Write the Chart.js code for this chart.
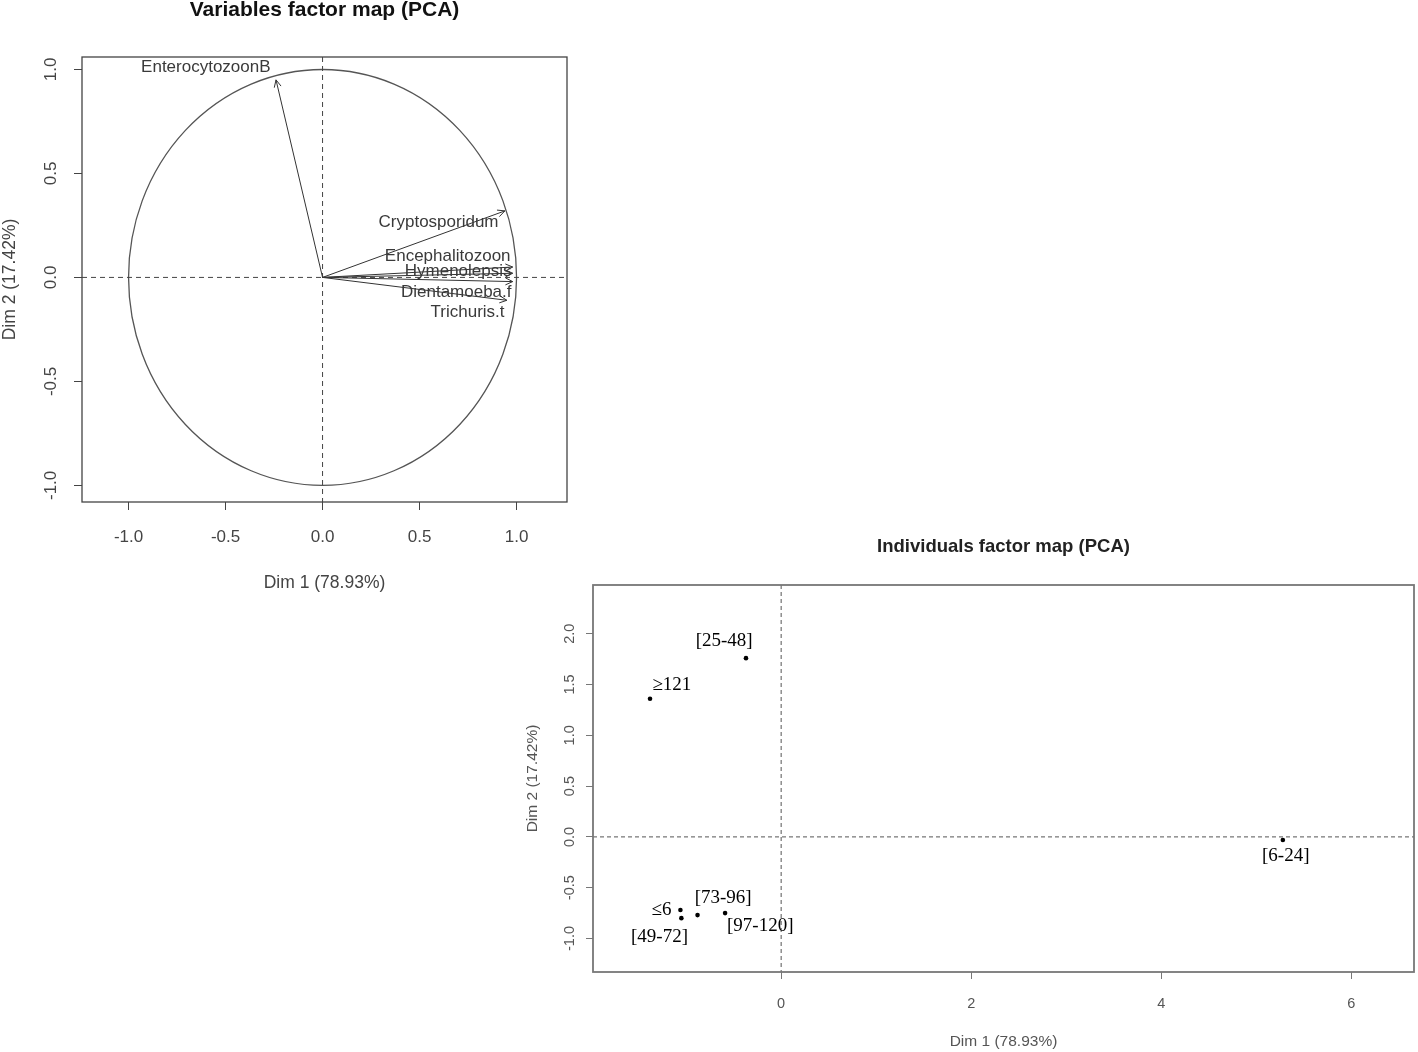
<!DOCTYPE html>
<html><head><meta charset="utf-8">
<script src="https://cdn.jsdelivr.net/npm/chart.js@4/dist/chart.umd.min.js"></script>
<style>
html,body{margin:0;padding:0;background:#fff;width:1418px;height:1052px;overflow:hidden;}
#c1{position:absolute;left:0;top:0;}
#c2{position:absolute;left:500px;top:520px;}
</style></head><body>
<canvas id="c1" width="600" height="600"></canvas>
<canvas id="c2" width="918" height="532"></canvas>
<script>
// ---- Variables factor map data ----
const varNames = ['EnterocytozoonB','Cryptosporidum','Encephalitozoon','Hymenolepsis','Dientamoeba.f','Trichuris.t'];
const varDim1 = [-0.24, 0.94, 0.98, 0.98, 0.98, 0.95];
const varDim2 = [0.95, 0.32, 0.05, 0.02, -0.02, -0.11];
// label anchor (right end of text, vertical middle), as placed by the plot's label repel
const varLabelX = [-0.268, 0.907, 0.969, 0.974, 0.974, 0.938];
const varLabelY = [1.01, 0.264, 0.101, 0.029, -0.072, -0.168];
const varTicks = [-1.0, -0.5, 0.0, 0.5, 1.0];

// ---- Individuals factor map data ----
const indNames = ['≤6','[6-24]','[25-48]','[49-72]','[73-96]','[97-120]','≥121'];
const indDim1 = [-1.06, 5.28, -0.37, -1.05, -0.88, -0.59, -1.38];
const indDim2 = [-0.72, -0.03, 1.76, -0.80, -0.77, -0.75, 1.36];
const indLabelX = [-1.26, 5.31, -0.60, -1.28, -0.61, -0.22, -1.15];
const indLabelY = [-0.72, -0.19, 1.93, -0.99, -0.60, -0.88, 1.50];
const indXTicks = [0, 2, 4, 6];
const indYTicks = [-1.0, -0.5, 0.0, 0.5, 1.0, 1.5, 2.0];

Chart.defaults.font.family = '"Liberation Sans", Arial, sans-serif';
Chart.defaults.animation = false;

const refLines = {
  id: 'refLines',
  beforeDatasetsDraw(chart, args, o) {
    const {ctx, chartArea: a, scales: {x, y}} = chart;
    ctx.save();
    ctx.beginPath(); ctx.rect(a.left, a.top, a.right - a.left, a.bottom - a.top); ctx.clip();
    const x0 = x.getPixelForValue(0), y0 = y.getPixelForValue(0);
    if (o.circle) {
      const rx = x.getPixelForValue(1) - x0, ry = y0 - y.getPixelForValue(1);
      ctx.beginPath(); ctx.ellipse(x0, y0, rx, ry, 0, 0, Math.PI * 2);
      ctx.strokeStyle = o.circleColor; ctx.lineWidth = 1.3; ctx.stroke();
    }
    ctx.setLineDash(o.dash); ctx.strokeStyle = o.color; ctx.lineWidth = o.width;
    ctx.beginPath();
    ctx.moveTo(x0, a.top); ctx.lineTo(x0, a.bottom);
    ctx.moveTo(a.left, y0); ctx.lineTo(a.right, y0);
    ctx.stroke();
    ctx.restore();
  },
  afterDraw(chart, args, o) {
    const {ctx, chartArea: a} = chart;
    ctx.save();
    ctx.strokeStyle = o.boxColor; ctx.lineWidth = o.boxWidth;
    ctx.strokeRect(a.left, a.top, a.right - a.left, a.bottom - a.top);
    ctx.restore();
  }
};

const arrowHeads = {
  id: 'arrowHeads',
  afterDatasetsDraw(chart, args, o) {
    if (!o.enabled) return;
    const ctx = chart.ctx;
    ctx.save();
    chart.data.datasets.forEach((ds, i) => {
      const pts = chart.getDatasetMeta(i).data;
      if (pts.length < 2) return;
      const p0 = pts[0], p1 = pts[1];
      const ang = Math.atan2(p1.y - p0.y, p1.x - p0.x);
      const L = 8, w = 0.45;
      ctx.strokeStyle = ds.borderColor; ctx.lineWidth = 1;
      ctx.beginPath();
      ctx.moveTo(p1.x - L * Math.cos(ang - w), p1.y - L * Math.sin(ang - w));
      ctx.lineTo(p1.x, p1.y);
      ctx.lineTo(p1.x - L * Math.cos(ang + w), p1.y - L * Math.sin(ang + w));
      ctx.stroke();
    });
    ctx.restore();
  }
};

const textLabels = {
  id: 'textLabels',
  afterDatasetsDraw(chart, args, o) {
    const {ctx, scales: {x, y}} = chart;
    ctx.save();
    ctx.font = o.font; ctx.fillStyle = o.color;
    ctx.textAlign = o.align; ctx.textBaseline = 'middle';
    o.names.forEach((n, i) => {
      ctx.fillText(n, x.getPixelForValue(o.xs[i]), y.getPixelForValue(o.ys[i]));
    });
    ctx.restore();
  }
};

function fixedTicks(arr) {
  return function(scale) { scale.ticks = arr.map(v => ({value: v})); };
}

// ---------- Chart 1 ----------
new Chart(document.getElementById('c1'), {
  type: 'scatter',
  data: {
    datasets: varNames.map((n, i) => ({
      label: n,
      data: [{x: 0, y: 0}, {x: varDim1[i], y: varDim2[i]}],
      showLine: true, borderColor: '#333', borderWidth: 1, pointRadius: 0
    }))
  },
  options: {
    responsive: false,
    layout: {padding: {left: 0, top: 0, right: 33, bottom: 0}},
    plugins: {
      legend: {display: false}, tooltip: {enabled: false},
      title: {display: true, text: 'Variables factor map (PCA)', fullSize: false, color: '#111',
        font: {size: 21, weight: 'bold', lineHeight: 1}, padding: {top: 0, bottom: 36}},
      refLines: {circle: true, circleColor: '#555', dash: [5, 4], color: '#444', width: 1, boxColor: '#444', boxWidth: 1.3},
      arrowHeads: {enabled: true},
      textLabels: {names: varNames, xs: varLabelX, ys: varLabelY, align: 'right',
        font: '17px "Liberation Sans", Arial, sans-serif', color: '#3a3a3a'}
    },
    scales: {
      x: {
        type: 'linear', min: -1.24, max: 1.26,
        afterBuildTicks: fixedTicks(varTicks),
        afterFit(s) { s.height = 98; },
        grid: {drawOnChartArea: false, drawTicks: true, tickLength: 8, color: '#444'},
        border: {display: false},
        ticks: {padding: 17, color: '#444', font: {size: 17}, callback: v => v.toFixed(1)},
        title: {display: true, text: 'Dim 1 (78.93%)', color: '#444', font: {size: 17.5}, padding: {top: 0, bottom: 6.5}}
      },
      y: {
        type: 'linear', min: -1.08, max: 1.06,
        afterBuildTicks: fixedTicks(varTicks),
        afterFit(s) { s.width = 82; },
        grid: {drawOnChartArea: false, drawTicks: true, tickLength: 8, color: '#444'},
        border: {display: false},
        ticks: {padding: 8, color: '#444', font: {size: 17}, minRotation: 90, maxRotation: 90, crossAlign: 'center', callback: v => v.toFixed(1)},
        title: {display: true, text: 'Dim 2 (17.42%)', color: '#444', font: {size: 17.5}, padding: {top: 0, bottom: 0}}
      }
    }
  },
  plugins: [refLines, arrowHeads, textLabels]
});

// ---------- Chart 2 ----------
new Chart(document.getElementById('c2'), {
  type: 'scatter',
  data: {
    datasets: [{
      label: 'Individuals',
      data: indDim1.map((v, i) => ({x: v, y: indDim2[i]})),
      backgroundColor: '#000', borderColor: '#000', pointRadius: 2.3, borderWidth: 0
    }]
  },
  options: {
    responsive: false,
    layout: {padding: {left: 0, top: 0, right: 2, bottom: 0}},
    plugins: {
      legend: {display: false}, tooltip: {enabled: false},
      title: {display: true, text: 'Individuals factor map (PCA)', fullSize: false, color: '#222',
        font: {size: 18.5, weight: 'bold', lineHeight: 1}, padding: {top: 17.75, bottom: 28.75}},
      refLines: {circle: false, dash: [4, 3], color: '#555', width: 1, boxColor: '#777', boxWidth: 1.8},
      arrowHeads: {enabled: false},
      textLabels: {names: indNames, xs: indLabelX, ys: indLabelY, align: 'center',
        font: '19px "Liberation Serif", "Times New Roman", serif', color: '#000'}
    },
    scales: {
      x: {
        type: 'linear', min: -1.98, max: 6.66,
        afterBuildTicks: fixedTicks(indXTicks),
        afterFit(s) { s.height = 80; },
        grid: {drawOnChartArea: false, drawTicks: true, tickLength: 7, color: '#777'},
        border: {display: false},
        ticks: {padding: 16, color: '#555', font: {size: 14.5}, callback: v => String(v)},
        title: {display: true, text: 'Dim 1 (78.93%)', color: '#555', font: {size: 15.5}, padding: {top: 0, bottom: 0.7}}
      },
      y: {
        type: 'linear', min: -1.33, max: 2.48,
        afterBuildTicks: fixedTicks(indYTicks),
        afterFit(s) { s.width = 93; },
        grid: {drawOnChartArea: false, drawTicks: true, tickLength: 7, color: '#777'},
        border: {display: false},
        ticks: {padding: 4, color: '#555', font: {size: 14.5}, minRotation: 90, maxRotation: 90, crossAlign: 'center', callback: v => v.toFixed(1)},
        title: {display: true, text: 'Dim 2 (17.42%)', color: '#555', font: {size: 15.5}, padding: {top: 23.7, bottom: 0}}
      }
    }
  },
  plugins: [refLines, arrowHeads, textLabels]
});
</script>
</body></html>
